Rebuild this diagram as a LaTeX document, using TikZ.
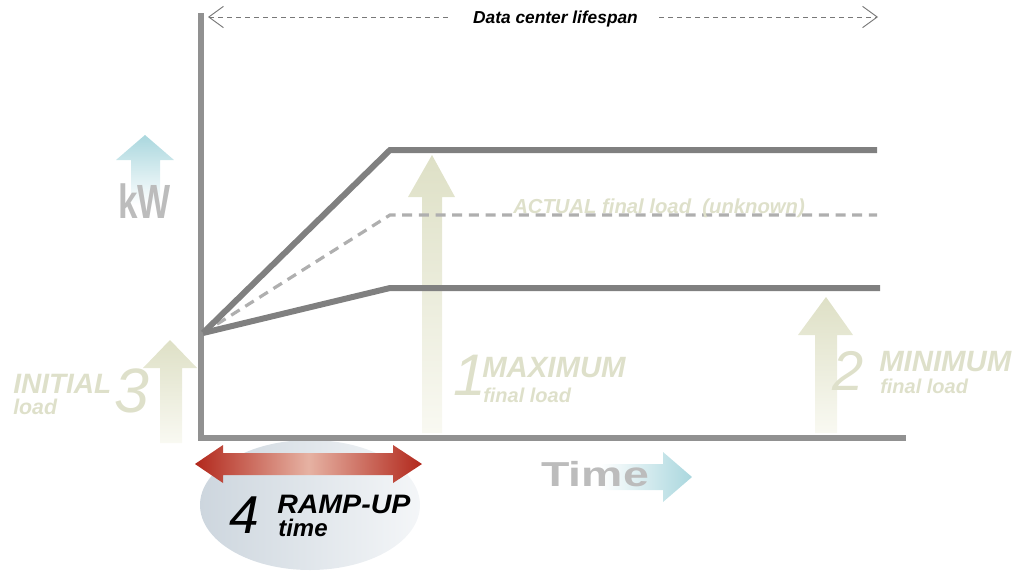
\documentclass[tikz,border=0pt]{standalone}
\usepackage{fontspec}
\setmainfont{Liberation Sans}
\usetikzlibrary{arrows.meta}
\definecolor{beigeT}{RGB}{222,224,202}
\definecolor{beigeTop}{RGB}{222,224,198}
\definecolor{beigeBot}{RGB}{249,249,242}
\definecolor{greyTxt}{RGB}{188,188,188}
\definecolor{lineC}{RGB}{128,128,128}
\definecolor{axisC}{RGB}{145,145,145}
\definecolor{dashC}{RGB}{175,175,175}
\definecolor{spanC}{RGB}{120,120,120}
\definecolor{blueA}{RGB}{170,215,222}
\definecolor{redD}{RGB}{178,40,28}
\definecolor{redL}{RGB}{230,178,163}
\definecolor{ellA}{RGB}{205,214,222}
\definecolor{ellB}{RGB}{244,246,248}
\newcommand\myfs[1]{\fontsize{#1}{#1}\selectfont}
\tikzset{
  txt/.style={inner sep=0pt, anchor=base west},
  beigelbl/.style={txt, text=beigeT, font=\bfseries\itshape},
  bignum/.style={txt, text=beigeT, font=\itshape},
  loadline/.style={draw=lineC, line width=4.5pt},
  beigearrow/.style={top color=beigeTop, bottom color=beigeBot, draw=none},
}
\begin{document}
\begin{tikzpicture}[x=0.75pt,y=-0.75pt]
\useasboundingbox (0,0) rectangle (1026,572);

% ellipse behind ramp-up label
\shade[left color=ellA, right color=ellB]
  (310,505) ellipse [x radius=82.5pt, y radius=48.75pt];

% beige arrows
\shade[beigearrow] (422,433) -- (422,197) -- (408,197) -- (432,155) -- (455,197) -- (442,197) -- (442,433) -- cycle;
\shade[beigearrow] (815,433) -- (815,335) -- (798,335) -- (826,297) -- (853,335) -- (837,335) -- (837,433) -- cycle;
\shade[beigearrow] (160,443) -- (160,368) -- (143,368) -- (170,340) -- (197,368) -- (182,368) -- (182,443) -- cycle;

% kW arrow
\shade[top color=blueA, bottom color=white] (131,205) -- (131,160) -- (116,160) -- (145,135) -- (174,160) -- (160,160) -- (160,205) -- cycle;
\node[inner sep=0pt, anchor=base, text=greyTxt, font=\bfseries\myfs{36}] (kw) at (144.5,218) {\scalebox{0.73}[1]{kW}};

% Time arrow
\shade[left color=white, right color=blueA] (600,464) -- (663,464) -- (663,452) -- (692,477) -- (663,502) -- (663,490) -- (600,490) -- cycle;
\node[txt, text=greyTxt, font=\bfseries\myfs{26}] (time) at (541,486) {\scalebox{1.34}[1]{Time}};

% axes
\coordinate (ytop) at (200.5,13);
\coordinate (orig) at (200.5,437.5);
\coordinate (xend) at (906,437.5);
\draw[draw=axisC, line width=4.5pt] (ytop) -- (orig) -- (xend);

% load curves
\coordinate (start) at (203,333);
\coordinate (maxk) at (390,150);
\coordinate (maxe) at (877,150);
\coordinate (actk) at (390,215);
\coordinate (acte) at (877,215);
\coordinate (mink) at (390,288);
\coordinate (mine) at (880,288);
\draw[draw=dashC, line width=2.4pt, dash pattern=on 7.5pt off 5pt] (start) -- (actk) -- (acte);
\draw[loadline] (start) -- (maxk) -- (maxe);
\draw[loadline] (start) -- (mink) -- (mine);

\node[beigelbl, font=\bfseries\itshape\myfs{15.2}] (actual) at (513,213) {ACTUAL final load\ \ (unknown)};

% top span arrow
\coordinate (spanL) at (208,17);
\coordinate (spanR) at (878,17);
\draw[draw=spanC, line width=0.7pt, dash pattern=on 3.75pt off 3pt,
  {Straight Barb[length=11pt,width=16pt]}-{Straight Barb[length=11pt,width=16pt]}] (spanL) -- (spanR);
\node[fill=white, inner xsep=16pt, inner ysep=2pt, anchor=base, font=\bfseries\itshape\myfs{13}] (span) at (555.5,23) {Data center lifespan};

% labels
\node[bignum, font=\itshape\myfs{44}] (n1) at (453,395) {1};
\node[beigelbl, font=\bfseries\itshape\myfs{22}] (max) at (482,377) {MAXIMUM};
\node[beigelbl, font=\bfseries\itshape\myfs{15}] (maxf) at (483,402) {final load};

\node[bignum, font=\itshape\myfs{42}] (n2) at (832,390) {2};
\node[beigelbl, font=\bfseries\itshape\myfs{22}] (min) at (879,371) {MINIMUM};
\node[beigelbl, font=\bfseries\itshape\myfs{15}] (minf) at (880,393) {final load};

\node[beigelbl, font=\bfseries\itshape\myfs{21}] (ini) at (13,393) {INITIAL};
\node[beigelbl, font=\bfseries\itshape\myfs{16}] (inil) at (13,414) {load};
\node[bignum, font=\itshape\myfs{47}] (n3) at (114,412) {3};

% ramp-up arrow
\shade[left color=redD, right color=redD, middle color=redL]
  (195,464) -- (223,445) -- (223,453) -- (393,453) -- (393,445) -- (422,464) -- (393,483) -- (393,475) -- (223,475) -- (223,483) -- cycle;
\node[txt, font=\itshape\myfs{40}] (n4) at (229,533) {4};
\node[txt, font=\bfseries\itshape\myfs{20}] (ramp) at (277,513) {\scalebox{1.07}[1]{RAMP-UP}};
\node[txt, font=\bfseries\itshape\myfs{18}] (rampt) at (278,536) {time};
\end{tikzpicture}
\end{document}
